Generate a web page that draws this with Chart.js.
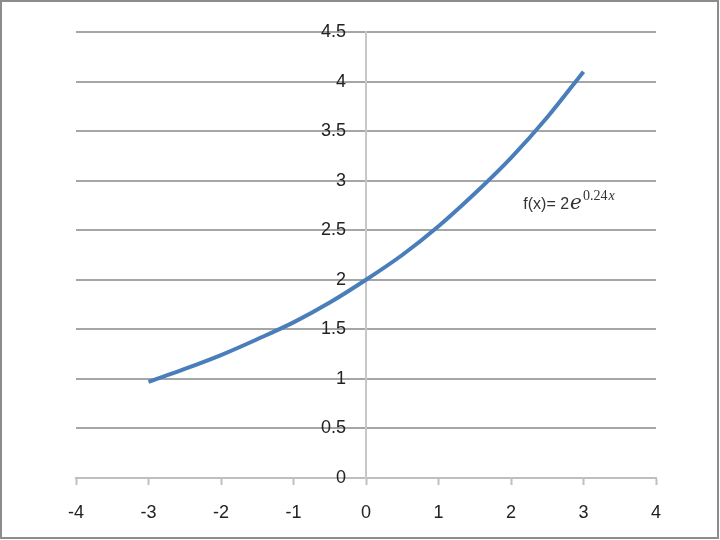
<!DOCTYPE html>
<html>
<head>
<meta charset="utf-8">
<script src="https://cdn.jsdelivr.net/npm/chart.js@4.4.1/dist/chart.umd.min.js"></script>
<style>
  body { margin: 0; background: #fff; }
  #wrap { width: 720px; height: 540px; position: relative; }
</style>
</head>
<body>
<div id="wrap"><canvas id="myChart" width="720" height="540"></canvas></div>
<script>
// values
var xValues = [-3, -2.5, -2, -1.5, -1, -0.5, 0, 0.5, 1, 1.5, 2, 2.5, 3];
var yValues = [0.97, 1.10, 1.24, 1.40, 1.57, 1.77, 2.00, 2.25, 2.54, 2.87, 3.23, 3.64, 4.10];
var xTicks = [-4, -3, -2, -1, 0, 1, 2, 3, 4];
var yTicks = [0, 0.5, 1, 1.5, 2, 2.5, 3, 3.5, 4, 4.5];
var formulaLabel = { text: 'f(x)= 2', base: 'e', exp: '0.24x', x: 2.17, y: 2.71 };

var points = xValues.map(function(x, i) { return { x: x, y: yValues[i] }; });

var tickFont = { family: "'Liberation Sans Narrow', 'Liberation Sans', Arial, sans-serif", size: 18 };
var yLabelGap = 20; // labels sit a bit left of the y axis line

var extras = {
    id: 'extras',
    beforeDraw: function(chart) {
        // push the y tick labels left of the axis line
        var items = chart.scales.y.getLabelItems();
        if (!items._shifted) {
            items.forEach(function(it) { it.options.translation[0] -= yLabelGap; });
            items._shifted = true;
        }
    },
    afterDraw: function(chart) {
        var c = chart.ctx;
        c.save();
        // outer frame
        c.strokeStyle = '#8c8c8c';
        c.lineWidth = 2;
        c.strokeRect(1, 1, 717, 537);

        // formula label
        var px = chart.scales.x.getPixelForValue(formulaLabel.x);
        var py = chart.scales.y.getPixelForValue(formulaLabel.y);
        c.fillStyle = '#333';
        c.textBaseline = 'alphabetic';
        c.font = "16px 'Liberation Sans', Arial, sans-serif";
        c.fillText(formulaLabel.text, px, py);
        px += c.measureText(formulaLabel.text).width + 1;
        c.font = "italic 20px 'DejaVu Serif', serif";
        c.fillText(formulaLabel.base, px, py);
        px += c.measureText(formulaLabel.base).width + 1;
        c.font = "14px 'Liberation Serif', serif";
        var expNum = formulaLabel.exp.slice(0, -1);
        c.fillText(expNum, px, py - 9);
        px += c.measureText(expNum).width + 1;
        c.font = "italic 14px 'Liberation Serif', serif";
        c.fillText(formulaLabel.exp.slice(-1), px, py - 9);
        c.restore();
    }
};

var ctx = document.getElementById('myChart');
var myChart = new Chart(ctx.getContext('2d'), {
    type: 'line',
    data: {
        datasets: [{
            data: points,
            borderColor: '#4a7ebb',
            borderWidth: 4,
            pointRadius: 0,
            fill: false,
            cubicInterpolationMode: 'monotone'
        }]
    },
    options: {
        responsive: false,
        animation: false,
        layout: {
            padding: { left: 76, right: 64, top: 32, bottom: 0 }
        },
        scales: {
            x: {
                type: 'linear',
                position: 'bottom',
                min: -4,
                max: 4,
                afterBuildTicks: function(axis) {
                    axis.ticks = xTicks.map(function(v) { return { value: v }; });
                },
                afterFit: function(axis) {
                    axis.height = 62;
                },
                grid: {
                    drawOnChartArea: false,
                    drawTicks: true,
                    tickLength: 7,
                    tickWidth: 2,
                    tickColor: '#bfbfbf'
                },
                border: { color: '#bfbfbf', width: 2 },
                ticks: {
                    font: tickFont,
                    color: '#222',
                    padding: 17,
                    maxRotation: 0,
                    callback: function(value) { return value; }
                }
            },
            y: {
                type: 'linear',
                position: { x: 0 },
                min: 0,
                max: 4.5,
                afterBuildTicks: function(axis) {
                    axis.ticks = yTicks.map(function(v) { return { value: v }; });
                },
                grid: {
                    color: '#a6a6a6',
                    lineWidth: 2,
                    drawTicks: false
                },
                border: { color: '#c8c8c8', width: 2 },
                ticks: {
                    font: tickFont,
                    color: '#222',
                    callback: function(value) { return value; }
                }
            }
        },
        plugins: {
            legend: { display: false },
            tooltip: { enabled: false }
        }
    },
    plugins: [extras]
});
</script>
</body>
</html>
